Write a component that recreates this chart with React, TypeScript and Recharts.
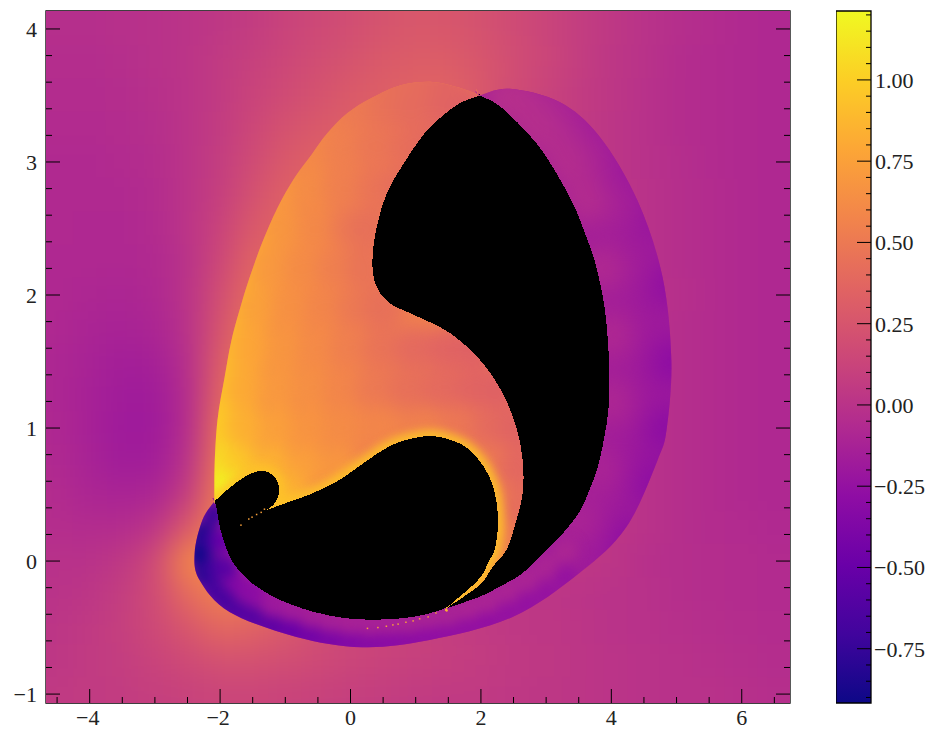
import React from 'react';
import { ComposedChart, Scatter, Area, XAxis, YAxis, ReferenceArea } from 'recharts';

type Pt = [number, number];
type Val = [number, number, number];

const X_DOMAIN = [-4.67, 6.74];
const Y_DOMAIN = [-1.067, 4.135];
const V_DOMAIN = [-0.917, 1.212];

const xTicks = [-4.5, -4, -3.5, -3, -2.5, -2, -1.5, -1, -0.5, 0, 0.5, 1, 1.5, 2, 2.5, 3, 3.5, 4, 4.5, 5, 5.5, 6, 6.5];
const yTicks = [-1, -0.8, -0.6, -0.4, -0.2, 0, 0.2, 0.4, 0.6, 0.8, 1, 1.2, 1.4, 1.6, 1.8, 2, 2.2, 2.4, 2.6, 2.8, 3, 3.2, 3.4, 3.6, 3.8, 4];
const cbTicks = [-0.9, -0.85, -0.8, -0.75, -0.7, -0.65, -0.6, -0.55, -0.5, -0.45, -0.4, -0.35, -0.3, -0.25, -0.2, -0.15, -0.1, -0.05, 0, 0.05, 0.1, 0.15, 0.2, 0.25, 0.3, 0.35, 0.4, 0.45, 0.5, 0.55, 0.6, 0.65, 0.7, 0.75, 0.8, 0.85, 0.9, 0.95, 1, 1.05, 1.1, 1.15, 1.2];

const plasmaStops = ['#0d0887', '#41049d', '#6a00a8', '#8f0da4', '#b12a90', '#cc4778', '#e16462', '#f2844b', '#fca636', '#fcce25', '#f0f921'];

// background field, cols follow gridX, rows follow gridY
const gridX = xTicks;
const gridY = [4, 3.75, 3.5, 3.25, 3, 2.75, 2.5, 2.25, 2, 1.75, 1.5, 1.25, 1, 0.75, 0.5, 0.25, 0, -0.25, -0.5, -0.75, -1];
const outerField = [
  [-.03, -.03, -.02, -.01, .01, .04, .07, .12, .16, .2, .24, .27, .26, .23, .18, .13, .08, .04, 0, -.03, -.05, -.07, -.08],
  [-.04, -.04, -.03, -.01, .01, .06, .1, .15, .2, .24, .29, .31, .31, .26, .2, .14, .08, .03, 0, -.04, -.06, -.07, -.08],
  [-.05, -.05, -.04, -.02, .01, .06, .12, .18, .23, .29, .32, .35, .35, .28, .18, .12, .07, .03, -.01, -.04, -.06, -.07, -.08],
  [-.06, -.06, -.05, -.03, .01, .07, .15, .23, .28, .32, .35, .35, .33, .26, .18, .11, .06, .02, -.01, -.04, -.06, -.07, -.08],
  [-.07, -.07, -.06, -.04, .01, .08, .18, .28, .34, .34, .34, .3, .28, .22, .16, .1, .05, .02, -.01, -.03, -.06, -.07, -.08],
  [-.07, -.07, -.07, -.05, .01, .09, .22, .33, .35, .3, .25, .2, .15, .1, .08, .06, .04, .02, 0, -.03, -.05, -.07, -.08],
  [-.07, -.08, -.08, -.06, .01, .12, .28, .35, .3, .25, .2, .15, .1, .08, .06, .05, .04, .02, 0, -.03, -.05, -.07, -.08],
  [-.08, -.08, -.08, -.07, 0, .15, .35, .35, .3, .25, .2, .15, .1, .08, .06, .05, .04, .02, 0, -.03, -.05, -.07, -.08],
  [-.08, -.09, -.1, -.08, 0, .2, .4, .35, .3, .25, .2, .15, .1, .08, .06, .05, .04, .02, 0, -.02, -.05, -.07, -.08],
  [-.08, -.11, -.12, -.1, -.01, .24, .45, .35, .3, .25, .2, .15, .1, .08, .06, .05, .04, .02, 0, -.03, -.05, -.07, -.08],
  [-.09, -.12, -.15, -.14, -.03, .3, .5, .35, .3, .25, .2, .15, .1, .08, .06, .05, .04, .02, 0, -.03, -.05, -.07, -.08],
  [-.09, -.13, -.17, -.17, -.05, .35, .5, .35, .3, .25, .2, .15, .1, .08, .06, .05, .04, .02, 0, -.03, -.05, -.07, -.08],
  [-.08, -.13, -.18, -.18, -.05, .42, .5, .35, .3, .25, .2, .15, .1, .08, .06, .05, .04, .02, 0, -.03, -.05, -.07, -.08],
  [-.07, -.12, -.17, -.16, -.01, .47, .5, .35, .3, .25, .2, .15, .1, .08, .06, .05, .04, .02, 0, -.03, -.05, -.07, -.08],
  [-.05, -.1, -.11, -.1, .07, .52, .5, .35, .3, .25, .2, .15, .1, .08, .06, .05, .04, .02, 0, -.03, -.05, -.07, -.08],
  [-.04, -.05, -.05, .01, .28, .55, .5, .35, .3, .25, .2, .15, .1, .08, .06, .05, .04, .02, 0, -.03, -.05, -.06, -.07],
  [-.01, -.01, .04, .16, .58, .6, .5, .35, .3, .25, .2, .15, .1, .08, .06, .05, .04, .02, -.02, -.03, -.04, -.05, -.06],
  [0, .02, .08, .18, .4, .55, .5, .4, .3, .2, .15, .1, .08, .05, .03, .02, .01, 0, -.01, -.03, -.04, -.05, -.06],
  [.02, .05, .09, .16, .26, .39, .35, .28, .2, .15, .12, .1, .08, .06, .04, .03, .02, 0, -.01, -.02, -.03, -.04, -.05],
  [.03, .06, .08, .12, .17, .22, .22, .2, .17, .14, .12, .1, .09, .07, .05, .04, .02, .01, 0, -.01, -.02, -.03, -.04],
  [.05, .06, .07, .09, .11, .13, .13, .12, .11, .09, .08, .06, .05, .05, .04, .03, .02, .01, 0, -.01, -.01, -.02, -.03],
];

// outlines
const innerLobe: Pt[] = [
  [-2.085, .45], [-2.085, .45], [-1.83, .56], [-1.575, .647], [-1.345, .677], [-1.165, .634], [-1.09, .534], [-1.165, .434], [-1.29, .383], [-1.29, .383],
  [-.86, .459], [-.58, .51], [-.17, .61], [.24, .75], [.55, .85], [.85, .91], [1.26, .94], [1.67, .885], [1.93, .784], [2.13, .634],
  [2.235, .459], [2.26, .258], [2.21, .083], [2.13, .0075], [1.98, -.13], [1.62, -.29], [1.42, -.36], [.96, -.42], [.44, -.44], [-.07, -.43], [-.58, -.38],
  [-1.09, -.29], [-1.5, -.17], [-1.81, -.005], [-1.98, .21], [-2.06, .41],
];
const rightLobe: Pt[] = [
  [1.98, 3.5], [2.29, 3.42], [2.69, 3.23], [3, 3.04], [3.385, 2.714], [3.615, 2.44], [3.77, 2.21], [3.895, 1.91], [3.95, 1.64], [3.97, 1.385],
  [3.95, 1.11], [3.82, .76], [3.665, .534], [3.51, .37], [3.256, .208], [3, .083], [2.64, -.09], [2.285, -.193], [1.98, -.268], [1.47, -.355], [1.47, -.355],
  [1.98, -.18], [2.18, -.043], [2.39, .083], [2.515, .258], [2.64, .51], [2.64, .76], [2.54, 1.01], [2.335, 1.26], [2.03, 1.487], [1.67, 1.66], [1.365, 1.76],
  [.93, 1.86], [.57, 1.95], [.37, 2.1], [.34, 2.3], [.42, 2.55], [.57, 2.78], [.83, 3], [1.135, 3.215], [1.37, 3.33], [1.67, 3.44], [1.98, 3.5],
];
const orangeOutline: Pt[] = [
  [-2.085, .45], [-2.085, .45], [-2.085, .707], [-2.04, 1.06], [-1.93, 1.383], [-1.825, 1.66], [-1.656, 1.962], [-1.518, 2.173], [-1.35, 2.398], [-1.12, 2.654],
  [-.86, 2.88], [-.6, 3.053], [-.353, 3.218], [-.046, 3.368], [.322, 3.481], [.782, 3.579], [1.258, 3.602], [1.626, 3.564], [1.948, 3.511], [1.948, 3.511],
  [2.4, 3], [2.9, 2], [3.1, 1], [2.8, .3], [2.4, -.08], [1.95, -.23], [1.47, -.355], [1.47, -.355], [1, -.1], [-.5, 0], [-1.6, .3], [-2, .42],
];
const crescentOutline: Pt[] = [
  [1.98, 3.5], [1.98, 3.5], [2.44, 3.55], [3.205, 3.45], [3.82, 3.19], [4.4, 2.71], [4.785, 2.135], [4.92, 1.51], [4.85, 1], [4.71, .76],
  [4.23, .256], [3.51, -.09], [2.485, -.42], [1.21, -.594], [.18, -.647], [-.83, -.57], [-1.855, -.383], [-2.315, -.143], [-2.39, .06], [-2.27, .31],
  [-2.085, .45], [-2.085, .45], [-1.6, .2], [0, 0], [2, 0], [3, 1.5], [2.5, 3],
];

// field samples inside the crescent: x, y, value
const crescentArc: Val[] = [
  [4.2, .15, -.3], [4.6, .6, -.3], [4.85, 1, -.3], [4.95, 1.5, -.29], [4.85, 2.1, -.27], [4.6, 2.6, -.23], [4.2, 3, -.2], [3.7, 3.3, -.16], [3.1, 3.5, -.12], [2.6, 3.55, -.08],
  [3.75, .2, -.2], [4.2, .7, -.22], [4.4, 1.2, -.2], [4.45, 1.7, -.19], [4.35, 2.2, -.17], [4.1, 2.65, -.14], [3.7, 3, -.12], [3.2, 3.25, -.09], [2.7, 3.4, -.06],
  [3.5, .3, -.11], [3.85, .7, -.11], [4, 1.2, -.09], [4, 1.7, -.08], [3.85, 2.2, -.07], [3.6, 2.7, -.05], [3.3, 3, -.04], [2.85, 3.25, -.03], [2.35, 3.48, -.02],
];
const crescentBand: Val[] = [
  [-1.75, -.38, -.62], [-1.5, -.43, -.6], [-1.2, -.49, -.56], [-.9, -.53, -.5], [-.6, -.57, -.45], [-.3, -.6, -.4], [0, -.61, -.36], [.3, -.62, -.33], [.6, -.61, -.31], [.9, -.59, -.3], [1.2, -.57, -.28], [1.5, -.54, -.27], [1.8, -.5, -.26], [2.1, -.46, -.26], [2.4, -.4, -.25], [2.7, -.33, -.25], [3, -.25, -.24], [3.3, -.13, -.24],
  [-1.75, -.18, -.34], [-1.5, -.24, -.3], [-1.2, -.33, -.2], [-.9, -.36, -.17], [-.6, -.41, -.15], [-.3, -.44, -.14], [0, -.46, -.13], [.3, -.47, -.13], [.6, -.46, -.13], [.9, -.45, -.12], [1.2, -.42, -.12], [1.5, -.4, -.12], [1.8, -.35, -.11], [2.1, -.3, -.11], [2.4, -.22, -.11], [2.7, -.13, -.11], [3, -.03, -.11], [3.3, .08, -.1],
  [-2.33, .05, -.9], [-2.28, .2, -.85], [-2.25, -.1, -.82], [-2.1, .35, -.72], [-2.1, .15, -.72], [-2.1, -.05, -.72], [-2.1, -.22, -.68], [-1.95, .15, -.5], [-1.92, -.05, -.58], [-1.95, -.3, -.66],
];
const orangeField: Val[] = [
  [.6, 3.6, .44], [1, 3.6, .42], [1.5, 3.6, .37],
  [.14, 3.4, .5], [.6, 3.4, .45], [1, 3.4, .41], [1.5, 3.4, .36], [1.9, 3.4, .33],
  [-.6, 3.1, .6], [-.1, 3.1, .54], [.4, 3.1, .48], [.9, 3.1, .43], [1.3, 3.1, .38],
  [-1.1, 2.8, .7], [-.6, 2.8, .62], [-.1, 2.8, .54], [.4, 2.8, .47], [.8, 2.8, .42],
  [-1.4, 2.5, .78], [-1, 2.5, .68], [-.5, 2.5, .6], [0, 2.5, .5], [.3, 2.5, .44],
  [-1.65, 2.2, .82], [-1.2, 2.2, .7], [-.7, 2.2, .62], [-.2, 2.2, .54], [.25, 2.2, .46],
  [-1.8, 1.9, .86], [-1.4, 1.9, .75], [-.9, 1.9, .65], [-.4, 1.9, .58], [.1, 1.9, .5], [.5, 1.9, .44],
  [-1.9, 1.6, .9], [-1.5, 1.6, .78], [-1, 1.6, .68], [-.5, 1.6, .61], [0, 1.6, .54], [.5, 1.6, .46], [1, 1.6, .4], [1.5, 1.6, .36], [1.9, 1.6, .34],
  [-2, 1.3, .95], [-1.6, 1.3, .8], [-1.1, 1.3, .7], [-.6, 1.3, .64], [-.1, 1.3, .58], [.4, 1.3, .5], [.9, 1.3, .44], [1.4, 1.3, .4], [1.9, 1.3, .36], [2.3, 1.3, .34],
  [-2, 1, 1], [-1.6, 1, .84], [-1.1, 1, .74], [-.6, 1, .67], [-.1, 1, .62], [.4, 1, .58], [1.7, 1, .48], [2.2, 1, .4], [2.6, 1, .35],
  [-2, .7, 1.12], [-1.7, .7, .96], [-1.2, .7, .85], [-.7, .7, .74], [-.2, .7, .68], [2.2, .7, .5], [2.6, .7, .38],
  [-1.95, .5, 1.2], [-1, .5, .85], [2.4, .4, .58], [2.6, .4, .42],
  [2.3, .1, .72], [2.45, .1, .52], [2.1, -.1, .85], [2.3, -.1, .6], [1.75, -.25, .8], [1.95, -.25, .6],
];

// stray specks along the thin filaments
const specks: Pt[] = [
  [-1.68, .27], [-1.56, .316], [-1.51, .33], [-1.44, .35], [-1.37, .366], [-1.32, .39],
  [.26, -.506], [.42, -.5], [.55, -.49], [.65, -.48], [.73, -.474], [.85, -.46], [.96, -.45], [1.06, -.434], [1.19, -.42], [1.31, -.39],
];

const FONT = '"Liberation Serif", serif';
const PLOT = { left: 46, right: 790, top: 11, bottom: 703 };
const PX_X = (PLOT.right - PLOT.left) / (X_DOMAIN[1] - X_DOMAIN[0]);
const PX_Y = (PLOT.bottom - PLOT.top) / (Y_DOMAIN[1] - Y_DOMAIN[0]);
const BLEED = 70;

const hexToRgb = (h: string) => [1, 3, 5].map(i => parseInt(h.slice(i, i + 2), 16));

function plasma(v: number) {
  const t = Math.min(1, Math.max(0, (v - V_DOMAIN[0]) / (V_DOMAIN[1] - V_DOMAIN[0]))) * 10;
  const i = Math.min(9, Math.floor(t));
  const a = hexToRgb(plasmaStops[i]);
  const b = hexToRgb(plasmaStops[i + 1]);
  const c = a.map((ch, k) => Math.round(ch + (b[k] - ch) * (t - i)));
  return `rgb(${c[0]},${c[1]},${c[2]})`;
}

function closedPath(pts: { x: number; y: number }[]) {
  const n = pts.length;
  let d = `M${pts[0].x},${pts[0].y}`;
  for (let i = 0; i < n; i++) {
    const p0 = pts[(i - 1 + n) % n], p1 = pts[i], p2 = pts[(i + 1) % n], p3 = pts[(i + 2) % n];
    d += `C${p1.x + (p2.x - p0.x) / 6},${p1.y + (p2.y - p0.y) / 6} ${p2.x - (p3.x - p1.x) / 6},${p2.y - (p3.y - p1.y) / 6} ${p2.x},${p2.y}`;
  }
  return d + 'Z';
}

const toXY = (list: Pt[]) => list.map(([x, y]) => ({ x, y }));
const toVal = (list: Val[]) => list.map(([x, y, v]) => ({ x, y, v }));
const outerCells = gridY.flatMap((y, r) => gridX.map((x, c) => ({ x, y, v: outerField[r][c], r, c })));

const noShape = () => null;

// edge cells run past the frame so the blur does not fade out at the border
function OuterCell(props: any) {
  const { cx, cy, payload } = props;
  const hw = (0.25 * PX_X) + 0.5;
  const hh = (0.125 * PX_Y) + 0.5;
  const x0 = payload.c === 0 ? cx - hw - BLEED : cx - hw;
  const x1 = payload.c === gridX.length - 1 ? cx + hw + BLEED : cx + hw;
  const y0 = payload.r === 0 ? cy - hh - BLEED : cy - hh;
  const y1 = payload.r === gridY.length - 1 ? cy + hh + BLEED : cy + hh;
  return <rect x={x0} y={y0} width={x1 - x0} height={y1 - y0} fill={plasma(payload.v)} />;
}

const blob = (r: number) => (props: any) => <circle cx={props.cx} cy={props.cy} r={r} fill={plasma(props.payload.v)} />;

const region = (id: string, fill: string) => (props: any) => {
  const d = closedPath(props.points);
  return (
    <g>
      <clipPath id={id}><path d={d} /></clipPath>
      <path d={d} fill={fill} stroke="none" />
    </g>
  );
};

const solid = (fill: string) => (props: any) => <path d={closedPath(props.points)} fill={fill} stroke="none" shapeRendering="crispEdges" />;

const glow = (props: any) => (
  <g clipPath="url(#clipOrange)">
    <path d={closedPath(props.points)} fill="none" stroke="#fdc328" strokeWidth={11} filter="url(#blurGlow)" />
  </g>
);

function tickLabel(x: number, y: number, value: number, digits: number, anchor: string) {
  return (
    <text x={x} y={y} textAnchor={anchor as any} fontFamily={FONT} fontSize={22} fill="#222">
      {value.toFixed(digits).replace('-', '\u2212')}
    </text>
  );
}

const isMajorX = (v: number) => Number.isInteger(v / 2);
const isMajorY = (v: number) => Math.abs(v - Math.round(v)) < 1e-6;
const isMajorCb = (v: number) => Math.abs(v * 4 - Math.round(v * 4)) < 1e-6;

const bottomTick = (p: any) => {
  const v = p.payload.value;
  const major = isMajorX(v);
  return (
    <g>
      <line x1={p.x} x2={p.x} y1={p.y} y2={p.y - (major ? 14 : 6)} stroke="#000" strokeWidth={1} />
      {major && tickLabel(v < 0 ? p.x - 2 : p.x, p.y + 22, v, 0, 'middle')}
    </g>
  );
};
const topTick = (p: any) => {
  const major = isMajorX(p.payload.value);
  return <line x1={p.x} x2={p.x} y1={p.y} y2={p.y + (major ? 14 : 6)} stroke="#000" strokeWidth={1} />;
};
const leftTick = (p: any) => {
  const v = p.payload.value;
  const major = isMajorY(v);
  return (
    <g>
      <line x1={p.x} x2={p.x + (major ? 14 : 6)} y1={p.y} y2={p.y} stroke="#000" strokeWidth={1} />
      {major && tickLabel(p.x - 9, p.y + 8, v, 0, 'end')}
    </g>
  );
};
const rightTick = (p: any) => {
  const major = isMajorY(p.payload.value);
  return <line x1={p.x} x2={p.x - (major ? 14 : 6)} y1={p.y} y2={p.y} stroke="#000" strokeWidth={1} />;
};
const cbTick = (p: any) => {
  const v = p.payload.value;
  const major = isMajorCb(v);
  return (
    <g>
      <line x1={p.x} x2={p.x - (major ? 14 : 5)} y1={p.y} y2={p.y} stroke="#000" strokeWidth={1} />
      {major && tickLabel(p.x + 4 + (v >= 0 ? 0 : -1), p.y + 8, v, 2, 'start')}
    </g>
  );
};

const cbData = [{ x: 0, range: V_DOMAIN }, { x: 1, range: V_DOMAIN }];

export default function App() {
  return (
    <div style={{ position: 'absolute', left: 0, top: 0, width: 946, height: 740, background: '#fff' }}>
      <style>{`
        .layer-outer { clip-path: url(#clipPlot); filter: url(#blurOuter); }
        .layer-arc { clip-path: url(#clipCrescent); filter: url(#blurArc); }
        .layer-band { clip-path: url(#clipCrescent); filter: url(#blurBand); }
        .layer-orange { clip-path: url(#clipOrange); filter: url(#blurOrange); }
      `}</style>
      <div style={{ position: 'absolute', left: 0, top: 0 }}>
        <ComposedChart width={946} height={740} margin={{ top: 0, right: 0, bottom: 0, left: 0 }}>
          <defs>
            <clipPath id="clipPlot">
              <rect x={PLOT.left} y={PLOT.top} width={PLOT.right - PLOT.left} height={PLOT.bottom - PLOT.top} />
            </clipPath>
            <filter id="blurOuter" filterUnits="userSpaceOnUse" x="-100" y="-100" width="1146" height="940" colorInterpolationFilters="sRGB">
              <feGaussianBlur stdDeviation="15" />
            </filter>
            <filter id="blurArc" x="-0.2" y="-0.2" width="1.4" height="1.4" colorInterpolationFilters="sRGB">
              <feGaussianBlur stdDeviation="13" />
            </filter>
            <filter id="blurBand" x="-0.2" y="-0.2" width="1.4" height="1.4" colorInterpolationFilters="sRGB">
              <feGaussianBlur stdDeviation="6" />
            </filter>
            <filter id="blurOrange" x="-0.2" y="-0.2" width="1.4" height="1.4" colorInterpolationFilters="sRGB">
              <feGaussianBlur stdDeviation="9" />
            </filter>
            <filter id="blurGlow" x="-0.2" y="-0.2" width="1.4" height="1.4" colorInterpolationFilters="sRGB">
              <feGaussianBlur stdDeviation="5" />
            </filter>
          </defs>

          <XAxis dataKey="x" type="number" domain={X_DOMAIN} ticks={xTicks} interval={0} height={37} tickSize={0} tickMargin={0} axisLine={false} tick={bottomTick} allowDataOverflow />
          <XAxis xAxisId="top" orientation="top" type="number" domain={X_DOMAIN} ticks={xTicks} interval={0} height={11} tickSize={0} tickMargin={0} axisLine={false} tick={topTick} allowDataOverflow />
          <YAxis dataKey="y" type="number" domain={Y_DOMAIN} ticks={yTicks} interval={0} width={46} tickSize={0} tickMargin={0} axisLine={false} tick={leftTick} allowDataOverflow />
          <YAxis yAxisId="right" orientation="right" type="number" domain={Y_DOMAIN} ticks={yTicks} interval={0} width={156} tickSize={0} tickMargin={0} axisLine={false} tick={rightTick} allowDataOverflow />

          <Scatter className="layer-outer" data={outerCells} shape={OuterCell} isAnimationActive={false} />

          <Scatter data={toXY(crescentOutline)} shape={noShape} line={region('clipCrescent', plasma(-0.17))} isAnimationActive={false} />
          <Scatter className="layer-arc" data={toVal(crescentArc)} shape={blob(24)} isAnimationActive={false} />
          <Scatter className="layer-band" data={toVal(crescentBand)} shape={blob(12)} isAnimationActive={false} />

          <Scatter data={toXY(orangeOutline)} shape={noShape} line={region('clipOrange', plasma(0.55))} isAnimationActive={false} />
          <Scatter className="layer-orange" data={toVal(orangeField)} shape={blob(22)} isAnimationActive={false} />
          <Scatter data={toXY(innerLobe)} shape={noShape} line={glow} isAnimationActive={false} />

          <Scatter data={toXY(innerLobe)} shape={noShape} line={solid('#000')} isAnimationActive={false} />
          <Scatter data={toXY(rightLobe)} shape={noShape} line={solid('#000')} isAnimationActive={false} />
          <Scatter data={toXY(specks)} shape={(p: any) => <rect x={p.cx - 0.75} y={p.cy - 0.75} width={1.5} height={1.5} fill="#f8a03a" />} isAnimationActive={false} />

          <ReferenceArea x1={X_DOMAIN[0]} x2={X_DOMAIN[1]} y1={Y_DOMAIN[0]} y2={Y_DOMAIN[1]} fill="none" stroke="#000" strokeWidth={1.3} />
        </ComposedChart>
      </div>

      <div style={{ position: 'absolute', left: 836, top: 0 }}>
        <ComposedChart width={110} height={740} data={cbData} margin={{ top: 11, right: 0, bottom: 37, left: 0 }}>
          <defs>
            <linearGradient id="plasmaBar" x1="0" y1="1" x2="0" y2="0">
              {plasmaStops.map((c, i) => <stop key={c} offset={`${i * 10}%`} stopColor={c} />)}
            </linearGradient>
          </defs>
          <XAxis dataKey="x" type="number" domain={[0, 1]} hide />
          <YAxis orientation="right" type="number" domain={V_DOMAIN} ticks={cbTicks} interval={0} width={75} tickSize={0} tickMargin={0} axisLine={false} tick={cbTick} allowDataOverflow />
          <Area dataKey="range" type="linear" stroke="none" fill="url(#plasmaBar)" fillOpacity={1} dot={false} isAnimationActive={false} />
          <ReferenceArea x1={0} x2={1} y1={V_DOMAIN[0]} y2={V_DOMAIN[1]} fill="none" stroke="#000" strokeWidth={1.3} />
        </ComposedChart>
      </div>
    </div>
  );
}
